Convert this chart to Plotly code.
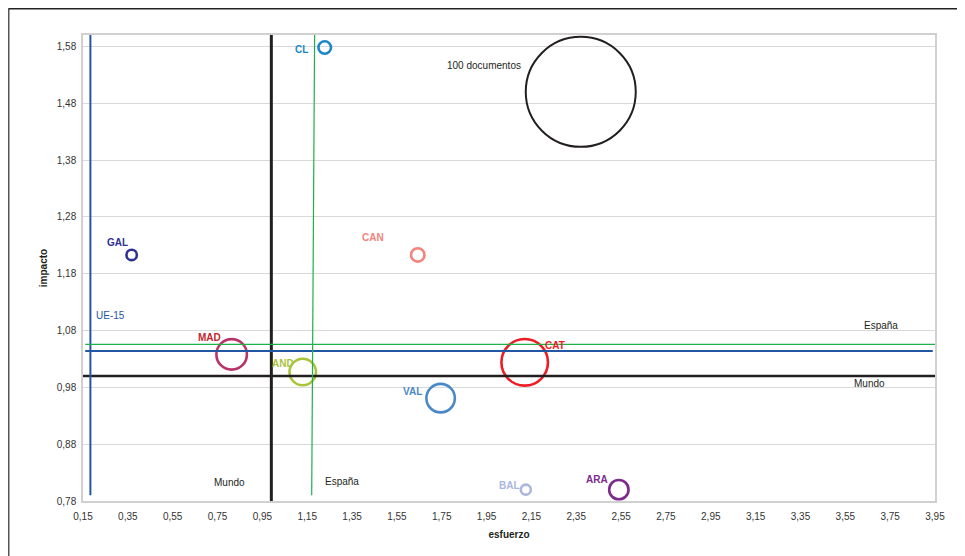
import plotly.graph_objects as go

# ---- data ----
regions = ["CL", "GAL", "CAN", "MAD", "AND", "VAL", "CAT", "BAL", "ARA"]
esfuerzo = [1.228, 0.367, 1.643, 0.813, 1.13, 1.745, 2.12, 2.125, 2.54]
impacto = [1.578, 1.213, 1.213, 1.038, 1.007, 0.961, 1.024, 0.80, 0.80]
documentos = [1.3, 0.9, 1.5, 7.7, 5.8, 6.7, 17.9, 0.83, 3.1]
circle_colors = ["#1b87c9", "#2e3192", "#f4837d", "#b8336a", "#a8c43a",
                 "#4a88c8", "#ed1c24", "#aab6dd", "#7d2a8d"]
label_colors = ["#1b87c9", "#2e3192", "#f4837d", "#c1272d", "#a8c43a",
                "#4a88c8", "#ed1c24", "#aab6dd", "#7d2a8d"]

ref_x = [2.37]
ref_y = [1.50]
ref_docs = [100]

mundo_val = [0.99, 1.0]      # x (vertical), y (horizontal)
ue15_val = [0.183, 1.044]
espana_val = [1.183, 1.17, 1.0556]  # vertical top x, bottom x, horizontal y

x_ticks = [0.15, 0.35, 0.55, 0.75, 0.95, 1.15, 1.35, 1.55, 1.75, 1.95,
           2.15, 2.35, 2.55, 2.75, 2.95, 3.15, 3.35, 3.55, 3.75, 3.95]
y_ticks = [0.78, 0.88, 0.98, 1.08, 1.18, 1.28, 1.38, 1.48, 1.58]
x_ticktext = [f"{v:.2f}".replace(".", ",") for v in x_ticks]
y_ticktext = [f"{v:.2f}".replace(".", ",") for v in y_ticks]

# ---- style ----
FONT = "Liberation Sans, Arial, sans-serif"
sizeref = 2 * 100 / 110 ** 2
label_dx = [-23, -14, -45, -22, -20, -28, 30, -16, -22]
label_dy = [-2, 12, 17, 17, 9, 7, 17, 4, 10]

fig = go.Figure()

fig.add_trace(go.Scatter(
    x=esfuerzo, y=impacto, mode="markers",
    marker=dict(size=documentos, sizemode="area", sizeref=sizeref, opacity=1,
                color="rgba(0,0,0,0)",
                line=dict(color=circle_colors, width=2.6)),
    hoverinfo="text", text=regions, showlegend=False, cliponaxis=False,
))
fig.add_trace(go.Scatter(
    x=ref_x, y=ref_y, mode="markers",
    marker=dict(size=ref_docs, sizemode="area", sizeref=sizeref, opacity=1,
                color="rgba(0,0,0,0)", line=dict(color="#231f20", width=2)),
    hoverinfo="skip", showlegend=False, cliponaxis=False,
))

shapes = []
# Mundo
shapes.append(dict(type="line", xref="x", yref="y", x0=mundo_val[0], x1=mundo_val[0],
                   y0=0.78, y1=1.60, line=dict(color="#231f20", width=3)))
shapes.append(dict(type="line", xref="x", yref="y", x0=0.15, x1=3.95,
                   y0=mundo_val[1], y1=mundo_val[1], line=dict(color="#231f20", width=2.6)))
# UE-15
shapes.append(dict(type="line", xref="x", yref="y", x0=ue15_val[0], x1=ue15_val[0],
                   y0=0.79, y1=1.60, line=dict(color="#2456a6", width=2)))
shapes.append(dict(type="line", xref="x", yref="y", x0=0.16, x1=3.94,
                   y0=ue15_val[1], y1=ue15_val[1], line=dict(color="#2456a6", width=2)))
# España
shapes.append(dict(type="line", xref="x", yref="y", x0=espana_val[0], x1=espana_val[1],
                   y0=1.60, y1=0.79, line=dict(color="#1fb04b", width=1.2)))
shapes.append(dict(type="line", xref="x", yref="y", x0=0.16, x1=3.95,
                   y0=espana_val[2], y1=espana_val[2], line=dict(color="#1fb04b", width=1.2)))

W, H = 957, 548
ML, MR, MT, MB = 75, 30, 27, 55
pw, ph = W - ML - MR, H - MT - MB
# outer frame (paper coords for figure pixel 0.5)
fx = (0.5 - ML) / pw
fy = 1 + (MT - 0.5) / ph
shapes.append(dict(type="line", xref="paper", yref="paper", x0=fx, x1=fx,
                   y0=-0.5, y1=fy, line=dict(color="#555555", width=2)))
shapes.append(dict(type="line", xref="paper", yref="paper", x0=fx, x1=1.5,
                   y0=fy, y1=fy, line=dict(color="#222222", width=2)))

annotations = []
for r, x, y, c, dx, dy in zip(regions, esfuerzo, impacto, label_colors, label_dx, label_dy):
    annotations.append(dict(x=x, y=y, xref="x", yref="y", text=f"<b>{r}</b>",
                            showarrow=False, xshift=dx, yshift=dy,
                            font=dict(family=FONT, size=10, color=c)))

text_notes = [
    ("Mundo", 0.804, 0.813), ("España", 1.305, 0.815),
    ("España", 3.707, 1.088), ("Mundo", 3.66, 0.987),
    ("100 documentos", 1.938, 1.546),
]
for t, x, y in text_notes:
    annotations.append(dict(x=x, y=y, xref="x", yref="y", text=t, showarrow=False,
                            font=dict(family=FONT, size=10, color="#231f20")))
annotations.append(dict(x=0.197, y=1.107, xref="x", yref="y", text="UE-15", showarrow=False,
                        xanchor="left", font=dict(family=FONT, size=10, color="#2456a6")))

fig.update_layout(
    width=W, height=H,
    margin=dict(l=ML, r=MR, t=MT, b=MB),
    paper_bgcolor="white", plot_bgcolor="white",
    font=dict(family=FONT, size=10, color="#333333"),
    shapes=shapes, annotations=annotations,
    xaxis=dict(range=[0.15, 3.95], tickvals=x_ticks, ticktext=x_ticktext,
               showgrid=False, zeroline=False, showline=True, linecolor="#d0d0d0",
               linewidth=1.5, mirror=True, ticks="", ticklabelstandoff=5,
               tickfont=dict(size=10, color="#333333"),
               title=dict(text="<b>esfuerzo</b>", font=dict(size=10, color="#231f20"), standoff=10)),
    yaxis=dict(range=[0.78, 1.60], tickvals=y_ticks, ticktext=y_ticktext,
               showgrid=True, gridcolor="#d9d9d9", gridwidth=1, zeroline=False,
               showline=True, linecolor="#d0d0d0", linewidth=1.5, mirror=True, ticks="",
               ticklabelstandoff=3, tickfont=dict(size=10, color="#333333"),
               title=dict(text="<b>impacto</b>", font=dict(size=10, color="#231f20"), standoff=7)),
)

fig.write_html("out.html")
